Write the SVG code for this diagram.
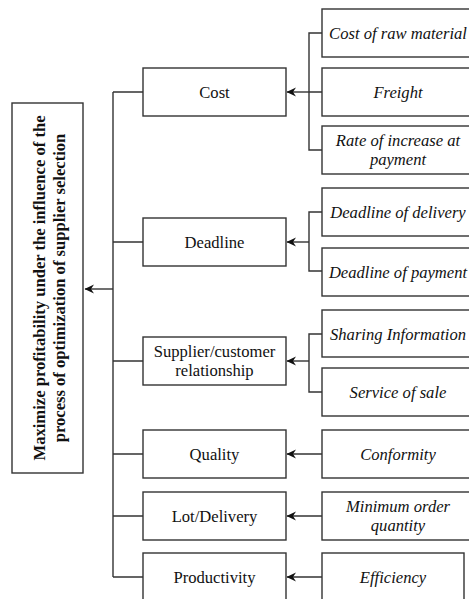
<svg xmlns="http://www.w3.org/2000/svg" width="469" height="599" viewBox="0 0 469 599">
<style>
.box{fill:#fff;stroke:#333;stroke-width:1.4}
.ln{fill:none;stroke:#333;stroke-width:1.4}
.m{font-family:"Liberation Serif","Times New Roman",serif;font-size:16.6px;fill:#111;text-anchor:middle}
.r{font-family:"Liberation Serif","Times New Roman",serif;font-size:16.6px;font-style:italic;fill:#111;text-anchor:middle}
.t{font-family:"Liberation Serif","Times New Roman",serif;font-size:16.6px;font-weight:bold;fill:#111;text-anchor:middle}
</style>
<defs>
<marker id="ah" markerWidth="10" markerHeight="10" refX="9" refY="5" orient="auto" markerUnits="userSpaceOnUse">
<path d="M0,0.5 L9.5,5 L0,9.5 L3,5 z" fill="#111"/>
</marker>
</defs>
<g id="connectors">
<path class="ln" d="M113,92 V577"/>
<path class="ln" d="M113,92 H143 M113,242 H143 M113,361 H143 M113,454 H143 M113,516 H143 M113,577 H143"/>
<path class="ln" d="M113,289 H85" marker-end="url(#ah)"/>
<path class="ln" d="M322,33 H309 V150 H322 M309,92 H322"/>
<path class="ln" d="M309,92 H287" marker-end="url(#ah)"/>
<path class="ln" d="M322,212 H309 V271 H322"/>
<path class="ln" d="M309,242 H287" marker-end="url(#ah)"/>
<path class="ln" d="M322,334 H309 V392 H322"/>
<path class="ln" d="M309,361 H287" marker-end="url(#ah)"/>
<path class="ln" d="M322,454 H287" marker-end="url(#ah)"/>
<path class="ln" d="M322,516 H287" marker-end="url(#ah)"/>
<path class="ln" d="M322,577 H287" marker-end="url(#ah)"/>
</g>
<g id="main">
<rect class="box" x="12" y="103" width="71" height="370"/>
<text class="t" transform="translate(45,288) rotate(-90)">Maximize profitability under the influence of the</text>
<text class="t" transform="translate(65,288) rotate(-90)">process of optimization of supplier selection</text>
</g>
<g id="cost"><rect class="box" x="143" y="68" width="143" height="48"/><text class="m" x="214.5" y="98">Cost</text></g>
<g id="deadline"><rect class="box" x="143" y="218" width="143" height="48"/><text class="m" x="214.5" y="248">Deadline</text></g>
<g id="supplier"><rect class="box" x="143" y="337" width="143" height="48"/><text class="m" x="214.5" y="357">Supplier/customer</text><text class="m" x="214.5" y="376">relationship</text></g>
<g id="quality"><rect class="box" x="143" y="430" width="143" height="48"/><text class="m" x="214.5" y="460">Quality</text></g>
<g id="lot"><rect class="box" x="143" y="492" width="143" height="48"/><text class="m" x="214.5" y="522">Lot/Delivery</text></g>
<g id="productivity"><rect class="box" x="143" y="553" width="143" height="48"/><text class="m" x="214.5" y="583">Productivity</text></g>
<g id="rawmaterial"><rect class="box" x="322" y="9" width="152" height="48"/><text class="r" x="398" y="39">Cost of raw material</text></g>
<g id="freight"><rect class="box" x="322" y="68" width="152" height="48"/><text class="r" x="398" y="98">Freight</text></g>
<g id="rate"><rect class="box" x="322" y="126" width="152" height="48"/><text class="r" x="398" y="146">Rate of increase at</text><text class="r" x="398" y="165">payment</text></g>
<g id="ddelivery"><rect class="box" x="322" y="188" width="152" height="48"/><text class="r" x="398" y="218">Deadline of delivery</text></g>
<g id="dpayment"><rect class="box" x="322" y="248" width="152" height="48"/><text class="r" x="398" y="278">Deadline of payment</text></g>
<g id="sharing"><rect class="box" x="322" y="310" width="152" height="47"/><text class="r" x="398" y="339.5">Sharing Information</text></g>
<g id="service"><rect class="box" x="322" y="368" width="152" height="48"/><text class="r" x="398" y="398">Service of sale</text></g>
<g id="conformity"><rect class="box" x="322" y="430" width="152" height="48"/><text class="r" x="398" y="460">Conformity</text></g>
<g id="minorder"><rect class="box" x="322" y="492" width="152" height="48"/><text class="r" x="398" y="512">Minimum order</text><text class="r" x="398" y="531">quantity</text></g>
<g id="efficiency"><rect class="box" x="322" y="553" width="142" height="48"/><text class="r" x="393" y="583">Efficiency</text></g>
</svg>
